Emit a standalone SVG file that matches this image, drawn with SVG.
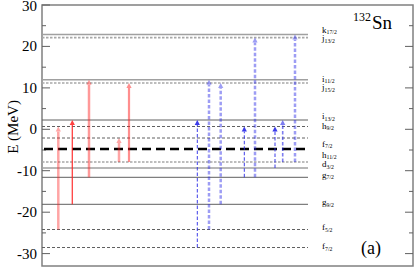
<svg xmlns="http://www.w3.org/2000/svg" width="415" height="268" viewBox="0 0 415 268">
<style>
text{font-family:"Liberation Serif","Times New Roman","DejaVu Serif",serif;fill:#000}
.tick{font-size:15px;text-anchor:end}
.lab{font-size:9px}
.sub{font-size:5.8px}
.frame{fill:none;stroke:#808080;stroke-width:1.5}
.tk{stroke:#606060;stroke-width:1}
.lv-solid{stroke:#606060;stroke-width:1}
.lv-dash{stroke:#606060;stroke-width:1;stroke-dasharray:3 2}
.lv-lsolid{stroke:#a0a0a0;stroke-width:1.6}
.lv-dot{stroke:#a8a8a8;stroke-width:1.6;stroke-dasharray:2.5 1.5}
.fermi{stroke:#000;stroke-width:2.4;stroke-dasharray:9 5}
.red{stroke:#ff2020;fill:none;marker-end:url(#ahR)}
.blue{stroke:#2828e8;fill:none;stroke-dasharray:3.5 2;marker-end:url(#ahB)}
</style>
<defs>
<marker id="ahR" markerUnits="userSpaceOnUse" markerWidth="8" markerHeight="8" refX="0" refY="0" viewBox="-1 -4 8 8" orient="auto" overflow="visible">
<path d="M0,-2.6 L5,0 L0,2.6 Z" fill="#ff2020"/>
</marker>
<marker id="ahB" markerUnits="userSpaceOnUse" markerWidth="8" markerHeight="8" refX="0" refY="0" viewBox="-1 -4 8 8" orient="auto" overflow="visible">
<path d="M0,-2.6 L5,0 L0,2.6 Z" fill="#2828e8"/>
</marker>
</defs>
<rect width="415" height="268" fill="#fff"/>

<g id="axes">
<rect class="frame" x="42" y="5" width="371" height="261"/>
<g class="tk">
<line x1="42" y1="5" x2="50" y2="5"/><line x1="42" y1="25.7" x2="46" y2="25.7"/>
<line x1="42" y1="46.4" x2="50" y2="46.4"/><line x1="42" y1="67.2" x2="46" y2="67.2"/>
<line x1="42" y1="87.9" x2="50" y2="87.9"/><line x1="42" y1="108.6" x2="46" y2="108.6"/>
<line x1="42" y1="129.3" x2="50" y2="129.3"/><line x1="42" y1="150" x2="46" y2="150"/>
<line x1="42" y1="170.7" x2="50" y2="170.7"/><line x1="42" y1="191.4" x2="46" y2="191.4"/>
<line x1="42" y1="212.2" x2="50" y2="212.2"/><line x1="42" y1="232.9" x2="46" y2="232.9"/>
<line x1="42" y1="253.6" x2="50" y2="253.6"/>
<line x1="413" y1="25.7" x2="409" y2="25.7"/>
<line x1="413" y1="46.4" x2="405" y2="46.4"/><line x1="413" y1="67.2" x2="409" y2="67.2"/>
<line x1="413" y1="87.9" x2="405" y2="87.9"/><line x1="413" y1="108.6" x2="409" y2="108.6"/>
<line x1="413" y1="129.3" x2="405" y2="129.3"/><line x1="413" y1="150" x2="409" y2="150"/>
<line x1="413" y1="170.7" x2="405" y2="170.7"/><line x1="413" y1="191.4" x2="409" y2="191.4"/>
<line x1="413" y1="212.2" x2="405" y2="212.2"/><line x1="413" y1="232.9" x2="409" y2="232.9"/>
<line x1="413" y1="253.6" x2="405" y2="253.6"/>
</g>
<text class="tick" x="37" y="11">30</text>
<text class="tick" x="37" y="51.4">20</text>
<text class="tick" x="37" y="92.9">10</text>
<text class="tick" x="37" y="134.3">0</text>
<text class="tick" x="37" y="175.7">-10</text>
<text class="tick" x="37" y="217.2">-20</text>
<text class="tick" x="37" y="258.6">-30</text>
<text x="18" y="127" font-size="15" text-anchor="middle" transform="rotate(-90 18 127)">E (MeV)</text>
</g>

<g id="levels">
<line class="lv-lsolid" x1="42" y1="34.5" x2="308" y2="34.5"/>
<line class="lv-dot" x1="42" y1="37.6" x2="308" y2="37.6"/>
<line class="lv-lsolid" x1="42" y1="79.7" x2="308" y2="79.7"/>
<line class="lv-dot" x1="42" y1="83" x2="308" y2="83"/>
<line class="lv-solid" x1="42" y1="120" x2="308" y2="120"/>
<line class="lv-dash" x1="42" y1="126.5" x2="308" y2="126.5"/>
<line class="lv-dash" x1="42" y1="138" x2="308" y2="138"/>
<line class="fermi" x1="44" y1="149" x2="308" y2="149"/>
<line class="lv-dot" x1="42" y1="162" x2="308" y2="162"/>
<line class="lv-lsolid" x1="42" y1="168" x2="308" y2="168" stroke-width="2"/>
<line class="lv-solid" x1="42" y1="177.3" x2="308" y2="177.3"/>
<line class="lv-solid" x1="42" y1="204.3" x2="308" y2="204.3"/>
<line class="lv-dash" x1="42" y1="229.5" x2="308" y2="229.5"/>
<line class="lv-dash" x1="42" y1="247.5" x2="308" y2="247.5"/>
</g>

<g id="labels">
<text class="lab" x="322" y="32.5">k<tspan class="sub" dy="1.5">17/2</tspan></text>
<text class="lab" x="322" y="41">j<tspan class="sub" dy="1.5">13/2</tspan></text>
<text class="lab" x="322" y="81.5">i<tspan class="sub" dy="1.5">11/2</tspan></text>
<text class="lab" x="322" y="90">j<tspan class="sub" dy="1.5">15/2</tspan></text>
<text class="lab" x="322" y="119">i<tspan class="sub" dy="1.5">13/2</tspan></text>
<text class="lab" x="322" y="128.5">h<tspan class="sub" dy="1.5">9/2</tspan></text>
<text class="lab" x="322" y="146.5">f<tspan class="sub" dy="1.5">7/2</tspan></text>
<text class="lab" x="322" y="157.5">h<tspan class="sub" dy="1.5">11/2</tspan></text>
<text class="lab" x="322" y="167">d<tspan class="sub" dy="1.5">3/2</tspan></text>
<text class="lab" x="322" y="177.5">g<tspan class="sub" dy="1.5">7/2</tspan></text>
<text class="lab" x="322" y="205">g<tspan class="sub" dy="1.5">9/2</tspan></text>
<text class="lab" x="322" y="230">f<tspan class="sub" dy="1.5">5/2</tspan></text>
<text class="lab" x="322" y="249">f<tspan class="sub" dy="1.5">7/2</tspan></text>
<text x="353" y="21" font-size="12">132</text>
<text x="372" y="29" font-size="19">Sn</text>
<text x="361" y="254" font-size="18">(a)</text>
</g>

<g id="connectors">
<path class="red" d="M58.3,229.5 V131.5" stroke-width="2.5" opacity="0.4"/>
<path class="red" d="M72.3,204.3 V125" stroke-width="1.3" opacity="0.85"/>
<path class="red" d="M89,177.3 V84.7" stroke-width="2.5" opacity="0.45"/>
<path class="red" d="M119,162 V143" stroke-width="2.5" opacity="0.4"/>
<path class="red" d="M129,162 V88" stroke-width="2.2" opacity="0.5"/>
<path class="blue" d="M197.3,247.5 V125" stroke-width="1" opacity="0.9"/>
<path class="blue" d="M209,229.5 V84.7" stroke-width="2.5" opacity="0.45"/>
<path class="blue" d="M220.7,204.3 V88" stroke-width="2.5" opacity="0.45"/>
<path class="blue" d="M244.3,177.3 V131.5" stroke-width="1" opacity="0.9"/>
<path class="blue" d="M255,177.3 V42.6" stroke-width="2.5" opacity="0.45"/>
<path class="blue" d="M275,168 V131.5" stroke-width="1" opacity="0.9"/>
<path class="blue" d="M282.7,162 V125" stroke-width="1.6" opacity="0.6"/>
<path class="blue" d="M295,162 V39.5" stroke-width="2.5" opacity="0.45"/>
</g>
</svg>
